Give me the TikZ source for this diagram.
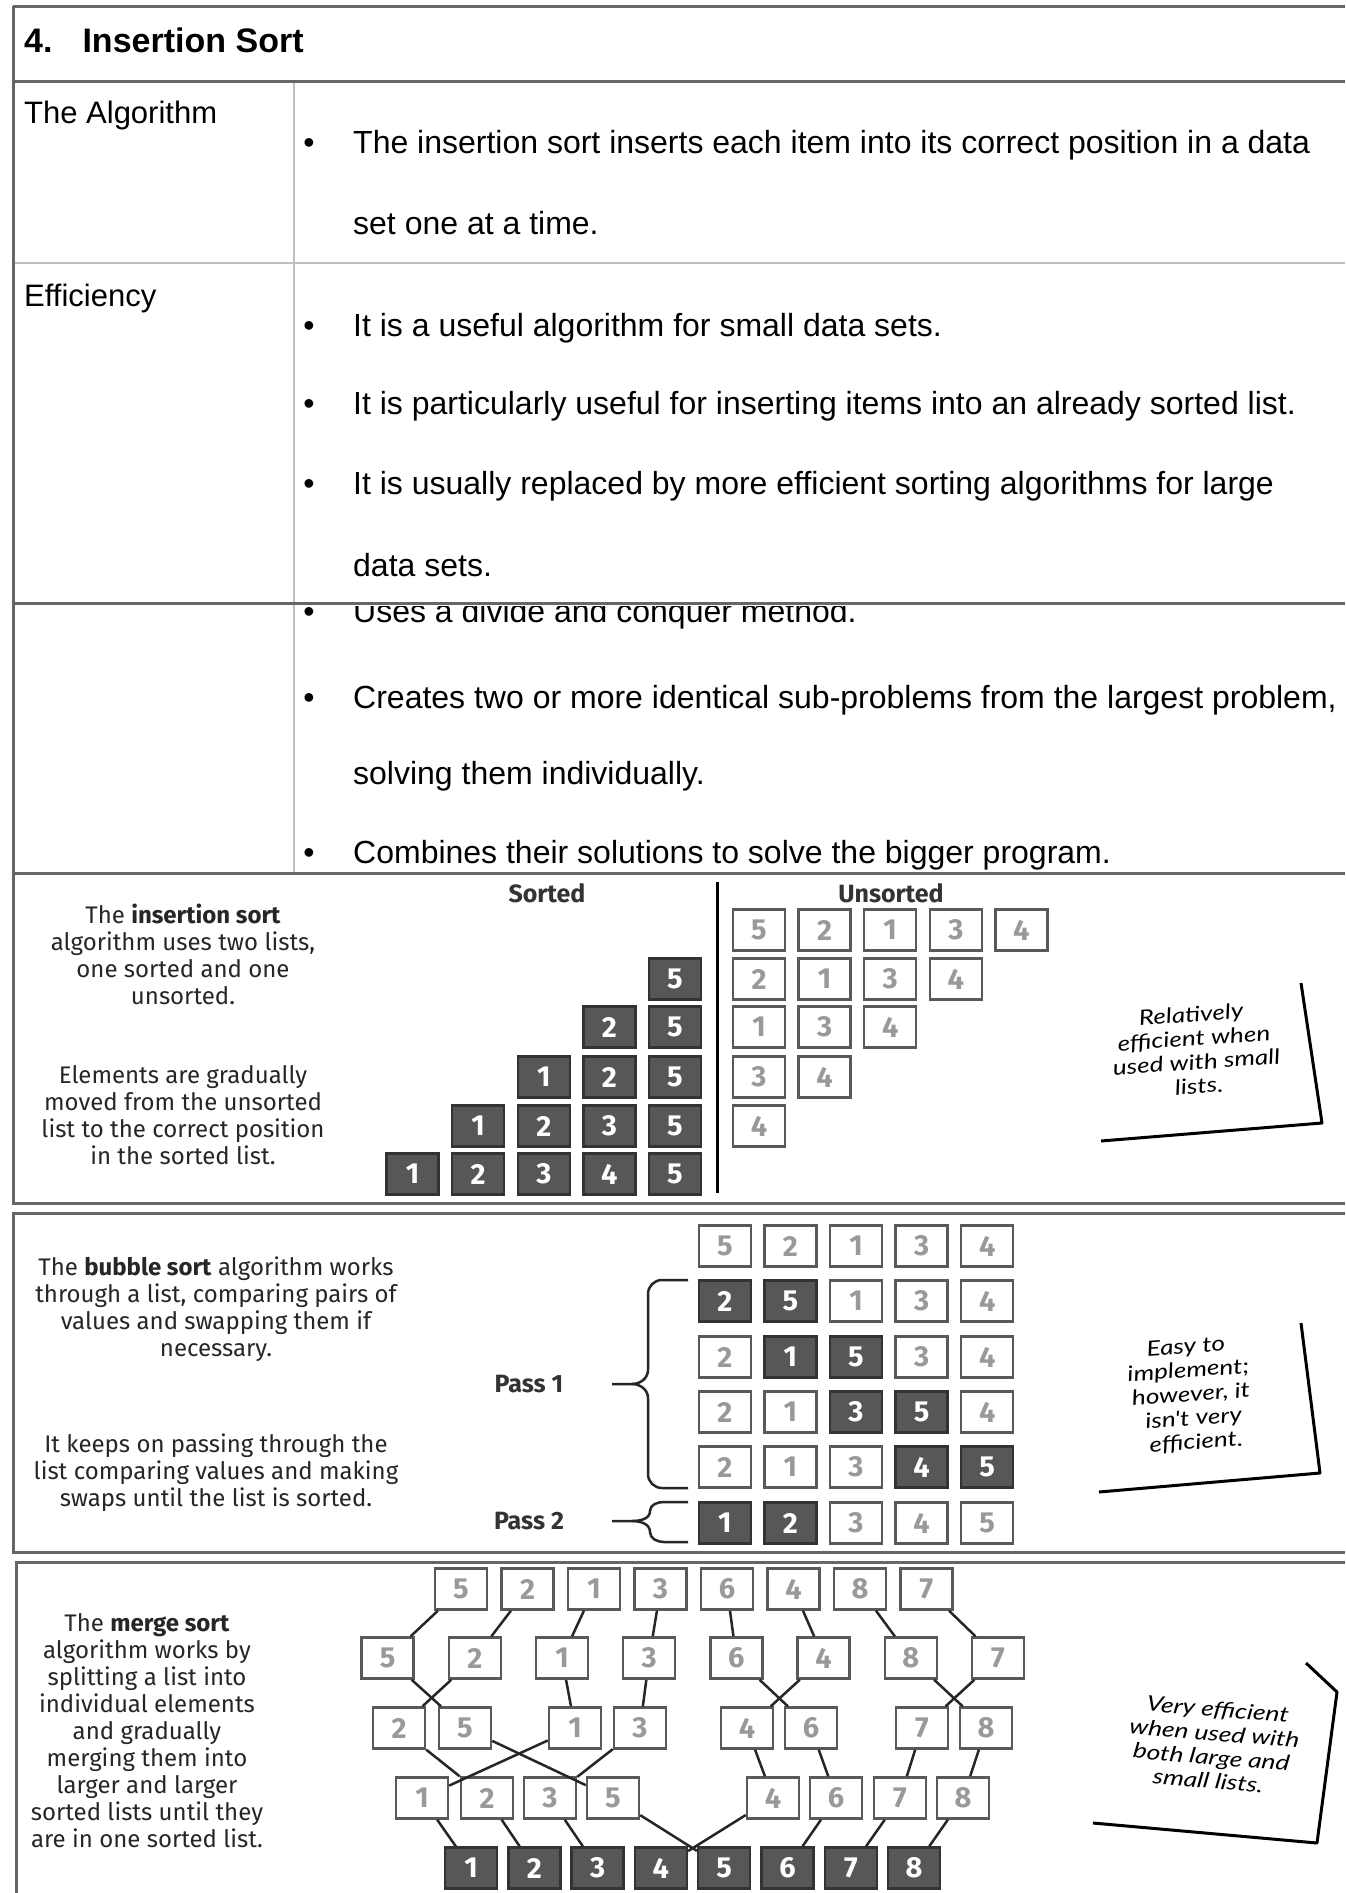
\documentclass[tikz,border=0pt]{standalone}
\usepackage{fontspec}
\setmainfont{Liberation Sans}
\newfontfamily\panelfont{Fira Sans}
\newfontfamily\notefont{Lato}
\usetikzlibrary{positioning}
\usetikzlibrary{calc}
\tikzset{
  tabline/.style={draw=black!60,line width=3pt},
  paleline/.style={draw=black!25,line width=2.5pt},
  heading/.style={anchor=base west,inner sep=0pt,font=\fontsize{34}{40}\selectfont\bfseries},
  rowname/.style={anchor=base west,inner sep=0pt,font=\fontsize{31}{36}\selectfont},
  itemtext/.style={anchor=base west,inner sep=0pt,font=\fontsize{32}{38}\selectfont},
  dot/.style={anchor=base,inner sep=0pt,font=\fontsize{32}{38}\selectfont},
  blurb/.style={align=center,inner sep=0pt,text=black!85,font=\panelfont\fontsize{24}{27}\selectfont},
  colhead/.style={inner sep=0pt,text=black!80,font=\panelfont\bfseries\fontsize{25}{30}\selectfont},
  cell/.style={minimum width=52pt,minimum height=41pt,inner sep=0pt,line width=2.5pt,
    draw=black!65,fill=white,text=black!40,font=\panelfont\bfseries\fontsize{29}{29}\selectfont},
  darkcell/.style={cell,draw=black!80,fill=black!66,text=white},
  note/.style={align=center,inner sep=0pt,xscale=1.25,font=\notefont\itshape\fontsize{21}{24}\selectfont},
  noteline/.style={line width=3pt,line join=round},
  link/.style={line width=2.5pt,draw=black!85},
  brace/.style={line width=2.5pt,draw=black!85}
}

\begin{document}
\begin{tikzpicture}[x=1pt,y=-1pt]
\useasboundingbox[fill=white] (0,0) rectangle (1345,1893);

% table frame
\draw[paleline] (294,81) -- (294,873);
\draw[paleline] (13,263) -- (1345,263);
\draw[tabline] (13,6) -- (1345,6);
\draw[tabline] (13,81) -- (1345,81);
\draw[tabline] (13,603) -- (1345,603);
\draw[tabline] (13,873) -- (1345,873);
\draw[tabline] (13,6) -- (13,1203) -- (1345,1203);
\draw[tabline] (1345,1213) -- (13,1213) -- (13,1552) -- (1345,1552);
\draw[tabline] (1345,1562) -- (16,1562) -- (16,1893);

% table text
\node[heading] (title) at (24,52) {4.\hspace{30pt}Insertion Sort};
\node[rowname] (algo) at (24,123) {The Algorithm};
\node[dot] (d1) at (309,153) {•};
\node[itemtext] (t1) at (353,153) {The insertion sort inserts each item into its correct position in a data};
\node[itemtext] (t1b) at (353,234) {set one at a time.};
\node[rowname] (eff) at (24,306) {Efficiency};
\node[dot] (d2) at (309,336) {•};
\node[itemtext] (t2) at (353,336) {It is a useful algorithm for small data sets.};
\node[dot] (d3) at (309,414) {•};
\node[itemtext] (t3) at (353,414) {It is particularly useful for inserting items into an already sorted list.};
\node[dot] (d4) at (309,494) {•};
\node[itemtext] (t4) at (353,494) {It is usually replaced by more efficient sorting algorithms for large};
\node[itemtext] (t4b) at (353,576) {data sets.};
\begin{scope}
\clip (296,606) rectangle (1345,640);
\node[dot] (d5) at (309,622) {•};
\node[itemtext] (t5) at (353,622) {Uses a divide and conquer method.};
\end{scope}
\node[dot] (d6) at (309,708) {•};
\node[itemtext] (t6) at (353,708) {Creates two or more identical sub-problems from the largest problem,};
\node[itemtext] (t6b) at (353,784) {solving them individually.};
\node[dot] (d7) at (309,863) {•};
\node[itemtext] (t7) at (353,863) {Combines their solutions to solve the bigger program.};

% insertion sort
\node[blurb] (ins1) at (183,954) {The \textbf{insertion sort}\\algorithm uses two lists,\\one sorted and one\\unsorted.};
\node[blurb] (ins2) at (183,1115) {Elements are gradually\\moved from the unsorted\\list to the correct position\\in the sorted list.};
\node[colhead] (sorted) at (547,893) {Sorted};
\node[colhead] (unsorted) at (891,893) {Unsorted};
\draw[line width=3pt] (717,882) -- (717,1193);
\foreach \v [count=\i] in {5,2,1,3,4} \node[cell] (u1\i) at ({759+65.6*(\i-1)},930) {\v};
\foreach \v [count=\i] in {2,1,3,4} \node[cell] (u2\i) at ({759+65.6*(\i-1)},979) {\v};
\foreach \v [count=\i] in {1,3,4} \node[cell] (u3\i) at ({759+65.6*(\i-1)},1027) {\v};
\foreach \v [count=\i] in {3,4} \node[cell] (u4\i) at ({759+65.6*(\i-1)},1077) {\v};
\node[cell] (u51) at (759,1126) {4};
\node[darkcell] (s21) at (675,979) {5};
\foreach \v [count=\i] in {2,5} \node[darkcell] (s3\i) at ({609.4+65.6*(\i-1)},1027) {\v};
\foreach \v [count=\i] in {1,2,5} \node[darkcell] (s4\i) at ({543.8+65.6*(\i-1)},1077) {\v};
\foreach \v [count=\i] in {1,2,3,5} \node[darkcell] (s5\i) at ({478.2+65.6*(\i-1)},1126) {\v};
\foreach \v [count=\i] in {1,2,3,4,5} \node[darkcell] (s6\i) at ({412.6+65.6*(\i-1)},1174) {\v};
\draw[noteline] (1301,983) -- (1322,1123) -- (1101,1141);
\node[note,rotate=5] (n1) at (1195,1050) {Relatively\\efficient when\\used with small\\lists.};

% bubble sort
\node[blurb] (bub1) at (216,1309) {The \textbf{bubble sort} algorithm works\\through a list, comparing pairs of\\values and swapping them if\\necessary.};
\node[blurb] (bub2) at (216,1473) {It keeps on passing through the\\list comparing values and making\\swaps until the list is sorted.};
\foreach \v [count=\i] in {5,2,1,3,4} \node[cell] (b1\i) at ({724.8+65.6*(\i-1)},1246) {\v};
\foreach \v/\s [count=\i] in {2/darkcell,5/darkcell,1/cell,3/cell,4/cell} \node[\s] (b2\i) at ({724.8+65.6*(\i-1)},1301) {\v};
\foreach \v/\s [count=\i] in {2/cell,1/darkcell,5/darkcell,3/cell,4/cell} \node[\s] (b3\i) at ({724.8+65.6*(\i-1)},1357) {\v};
\foreach \v/\s [count=\i] in {2/cell,1/cell,3/darkcell,5/darkcell,4/cell} \node[\s] (b4\i) at ({724.8+65.6*(\i-1)},1412) {\v};
\foreach \v/\s [count=\i] in {2/cell,1/cell,3/cell,4/darkcell,5/darkcell} \node[\s] (b5\i) at ({724.8+65.6*(\i-1)},1467) {\v};
\foreach \v/\s [count=\i] in {1/darkcell,2/darkcell,3/cell,4/cell,5/cell} \node[\s] (b6\i) at ({724.8+65.6*(\i-1)},1523) {\v};
\node[colhead] (pass1) at (529,1384) {Pass 1};
\node[colhead] (pass2) at (529,1521) {Pass 2};
\draw[brace] (688,1280) -- (662,1280) to[out=180,in=90] (648,1294) -- (648,1370) to[out=-90,in=0] (632,1384) -- (612,1384);
\draw[brace] (688,1488) -- (662,1488) to[out=180,in=-90] (648,1474) -- (648,1398) to[out=90,in=0] (632,1384);
\draw[brace] (688,1502) -- (664,1502) to[out=180,in=90] (650,1511) to[out=-90,in=0] (632,1521) -- (612,1521);
\draw[brace] (688,1542) -- (664,1542) to[out=180,in=-90] (650,1532) to[out=90,in=0] (632,1521);
\draw[noteline] (1301,1323) -- (1320,1473) -- (1099,1492);
\node[note,rotate=5] (n2) at (1191,1395) {Easy to\\implement;\\however, it\\isn't very\\efficient.};

% merge sort
\node[blurb] (mer) at (147,1731) {The \textbf{merge sort}\\algorithm works by\\splitting a list into\\individual elements\\and gradually\\merging them into\\larger and larger\\sorted lists until they\\are in one sorted list.};
\foreach \v [count=\i] in {5,2,1,3,6,4,8,7} \node[cell] (mA\i) at ({461+66.5*(\i-1)},1589) {\v};
\foreach \v [count=\i] in {5,2,1,3,6,4,8,7} \node[cell] (mB\i) at ({387.6+87.2*(\i-1)},1658) {\v};
\foreach \v/\x [count=\i] in {2/399,5/465,1/575,3/640,4/747,6/811,7/922,8/986} \node[cell] (mC\i) at (\x,1728) {\v};
\foreach \v/\x [count=\i] in {1/422,2/487,3/550,5/613,4/773,6/836,7/900,8/963} \node[cell] (mD\i) at (\x,1798) {\v};
\foreach \v [count=\i] in {1,...,8} \node[darkcell] (mE\i) at ({471+63.3*(\i-1)},1868) {\v};
\foreach \i in {1,...,8} \draw[link] (mA\i) -- (mB\i);
\foreach \a/\b in {1/2,2/1,3/3,4/4,5/6,6/5,7/8,8/7} \draw[link] (mB\a) -- (mC\b);
\foreach \a/\b in {1/2,2/4,3/1,4/3,5/5,6/6,7/7,8/8} \draw[link] (mC\a) -- (mD\b);
\foreach \a/\b in {1/1,2/2,3/3,4/5,5/4,6/6,7/7,8/8} \draw[link] (mD\a) -- (mE\b);
\draw[noteline] (1306,1663) -- (1337,1692) -- (1317,1843) -- (1093,1823);
\node[note,rotate=-6] (n3) at (1213,1745) {Very efficient\\when used with\\both large and\\small lists.};
\end{tikzpicture}
\end{document}
